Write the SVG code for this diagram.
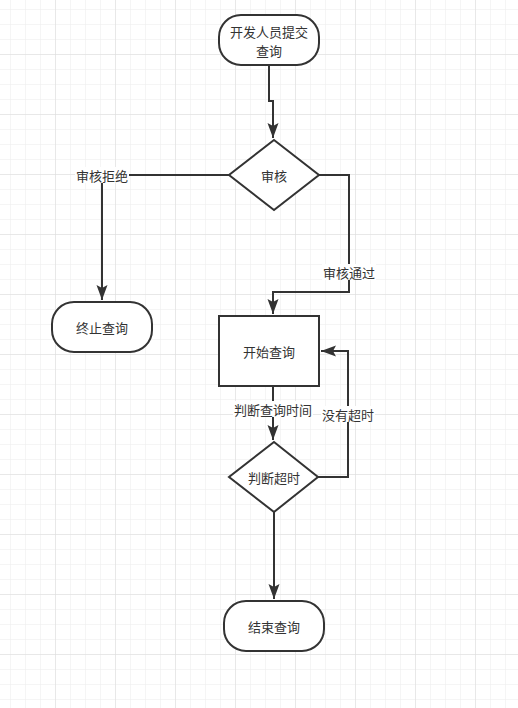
<svg xmlns="http://www.w3.org/2000/svg" width="518" height="708" viewBox="0 0 518 708">
<defs>
<pattern id="minor" x="10" y="9" width="15" height="15" patternUnits="userSpaceOnUse">
<path d="M0,0 H15 M0,0 V15" fill="none" stroke="#ebebeb" stroke-width="1"/>
</pattern>
<pattern id="major" x="55" y="54" width="60" height="60" patternUnits="userSpaceOnUse">
<path d="M0,0 H60 M0,0 V60" fill="none" stroke="#dcdcdc" stroke-width="1"/>
</pattern>
<marker id="arr" markerUnits="userSpaceOnUse" viewBox="-16 -6 17 12" refX="0" refY="0" markerWidth="17" markerHeight="12" orient="auto">
<path d="M0,0 L-15,-5.5 L-12,0 L-15,5.5 Z" fill="#333"/>
</marker>
<style>
.n{fill:#fff;stroke:#333;stroke-width:2}
.t{font-family:"Noto Sans CJK SC","Liberation Sans",sans-serif;font-size:13px;fill:#333;text-anchor:middle;dominant-baseline:central}
.e{fill:none;stroke:#333;stroke-width:2}
.lb{fill:#fff}
</style>
</defs>
<rect width="518" height="708" fill="#fff"/>
<rect width="518" height="708" fill="url(#minor)"/>
<rect width="518" height="708" fill="url(#major)"/>

<g id="connectors">
<path class="e" d="M269,65 V101 H273 V138" marker-end="url(#arr)"/>
<path class="e" d="M229,175 H102 V300" marker-end="url(#arr)"/>
<path class="e" d="M319,175 H349 V292 H273 V314" marker-end="url(#arr)"/>
<path class="e" d="M273,386 V440" marker-end="url(#arr)"/>
<path class="e" d="M318,477 H348 V351 H321" marker-end="url(#arr)"/>
<path class="e" d="M274,512 V599" marker-end="url(#arr)"/>
<g id="edge-labels">
<rect class="lb" x="75" y="167" width="54" height="16"/>
<text class="t" x="102" y="175">审核拒绝</text>
<rect class="lb" x="322" y="264" width="54" height="16"/>
<text class="t" x="349" y="272">审核通过</text>
<rect class="lb" x="233" y="401" width="80" height="16"/>
<text class="t" x="273" y="409">判断查询时间</text>
<rect class="lb" x="321" y="406" width="54" height="16"/>
<text class="t" x="348" y="414">没有超时</text>
</g>
</g>

<g id="submit">
<rect class="n" x="219" y="15" width="100" height="50" rx="22" ry="22"/>
<text class="t" x="269" y="31">开发人员提交</text>
<text class="t" x="269" y="50">查询</text>
</g>
<g id="review">
<polygon class="n" points="274,140 319,175 274,210 229,175"/>
<text class="t" x="274" y="175">审核</text>
</g>
<g id="terminate">
<rect class="n" x="52" y="302" width="100" height="50" rx="22" ry="22"/>
<text class="t" x="102" y="327">终止查询</text>
</g>
<g id="start-query">
<rect class="n" x="219" y="316" width="100" height="70"/>
<text class="t" x="269" y="351">开始查询</text>
</g>
<g id="check-timeout">
<polygon class="n" points="274,442 318,477 274,512 229,477"/>
<text class="t" x="274" y="477">判断超时</text>
</g>
<g id="end-query">
<rect class="n" x="224" y="601" width="100" height="50" rx="22" ry="22"/>
<text class="t" x="274" y="626">结束查询</text>
</g>
</svg>
